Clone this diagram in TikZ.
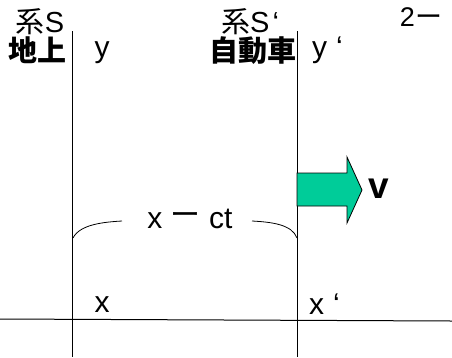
\documentclass[tikz,border=0pt]{standalone}
\usepackage{fontspec}
\setmainfont{Liberation Sans}
\newfontfamily\jp{Noto Sans CJK JP}
\begin{document}
\begin{tikzpicture}[x=1pt,y=-1pt,
  lbl/.style={inner sep=0pt,anchor=base,text height=0.7em,text depth=0em,font=\fontsize{30}{32}\selectfont},
  axis/.style={line width=1pt,black}]
\useasboundingbox (0,0) rectangle (452,357);
% axes
\coordinate (L1) at (72,31); \coordinate (L2) at (72,357);
\coordinate (R1) at (297,31); \coordinate (R2) at (297,357);
\coordinate (H1) at (0,319); \coordinate (H2) at (452,321);
\draw[axis] (L1) -- (L2);
\draw[axis] (R1) -- (R2);
\draw[axis] (H1) -- (H2);
% labels
\node[lbl,font=\fontsize{29}{31}\selectfont] (sysS) at (40,32) {{\jp 系}S};
\node[lbl,font=\fontsize{29}{31}\selectfont] (ground) at (38,61) {\jp\bfseries 地上};
\node[lbl] (y) at (102,57) {y};
\node[lbl,anchor=base west,font=\fontsize{29}{31}\selectfont] (sysSp) at (221,32) {{\jp 系}S\hspace{3pt}‘};
\node[lbl,font=\fontsize{29}{31}\selectfont] (car) at (253,61) {\jp\bfseries 自動車};
\node[lbl,anchor=base west] (yp) at (312,57) {y\hspace{9pt}‘};
\node[lbl,font=\fontsize{27}{29}\selectfont] (pg) at (421,26) {2{\jp ー}};
\node[lbl] (x) at (102,312) {x};
\node[lbl,anchor=base west] (xp) at (309,314) {x\hspace{9pt}‘};
% arrow
\fill[fill={rgb,255:red,0;green,204;blue,153},draw=black,line width=0.8pt]
  (297,173) -- (347,173) -- (347,157) -- (362,190) -- (347,223) -- (347,206) -- (297,206) -- cycle;
\node[lbl,font=\fontsize{37}{39}\selectfont\bfseries] (v) at (379,198) {v};
% brace
\node[lbl] (xct) at (190,228) {x {\jp\raisebox{3pt}{ー}} ct};
\draw[line width=0.8pt] (73,238) .. controls (80,224) and (105,222) .. (122,221);
\draw[line width=0.8pt] (252,221) .. controls (270,222) and (292,224) .. (297,238);
\end{tikzpicture}
\end{document}
